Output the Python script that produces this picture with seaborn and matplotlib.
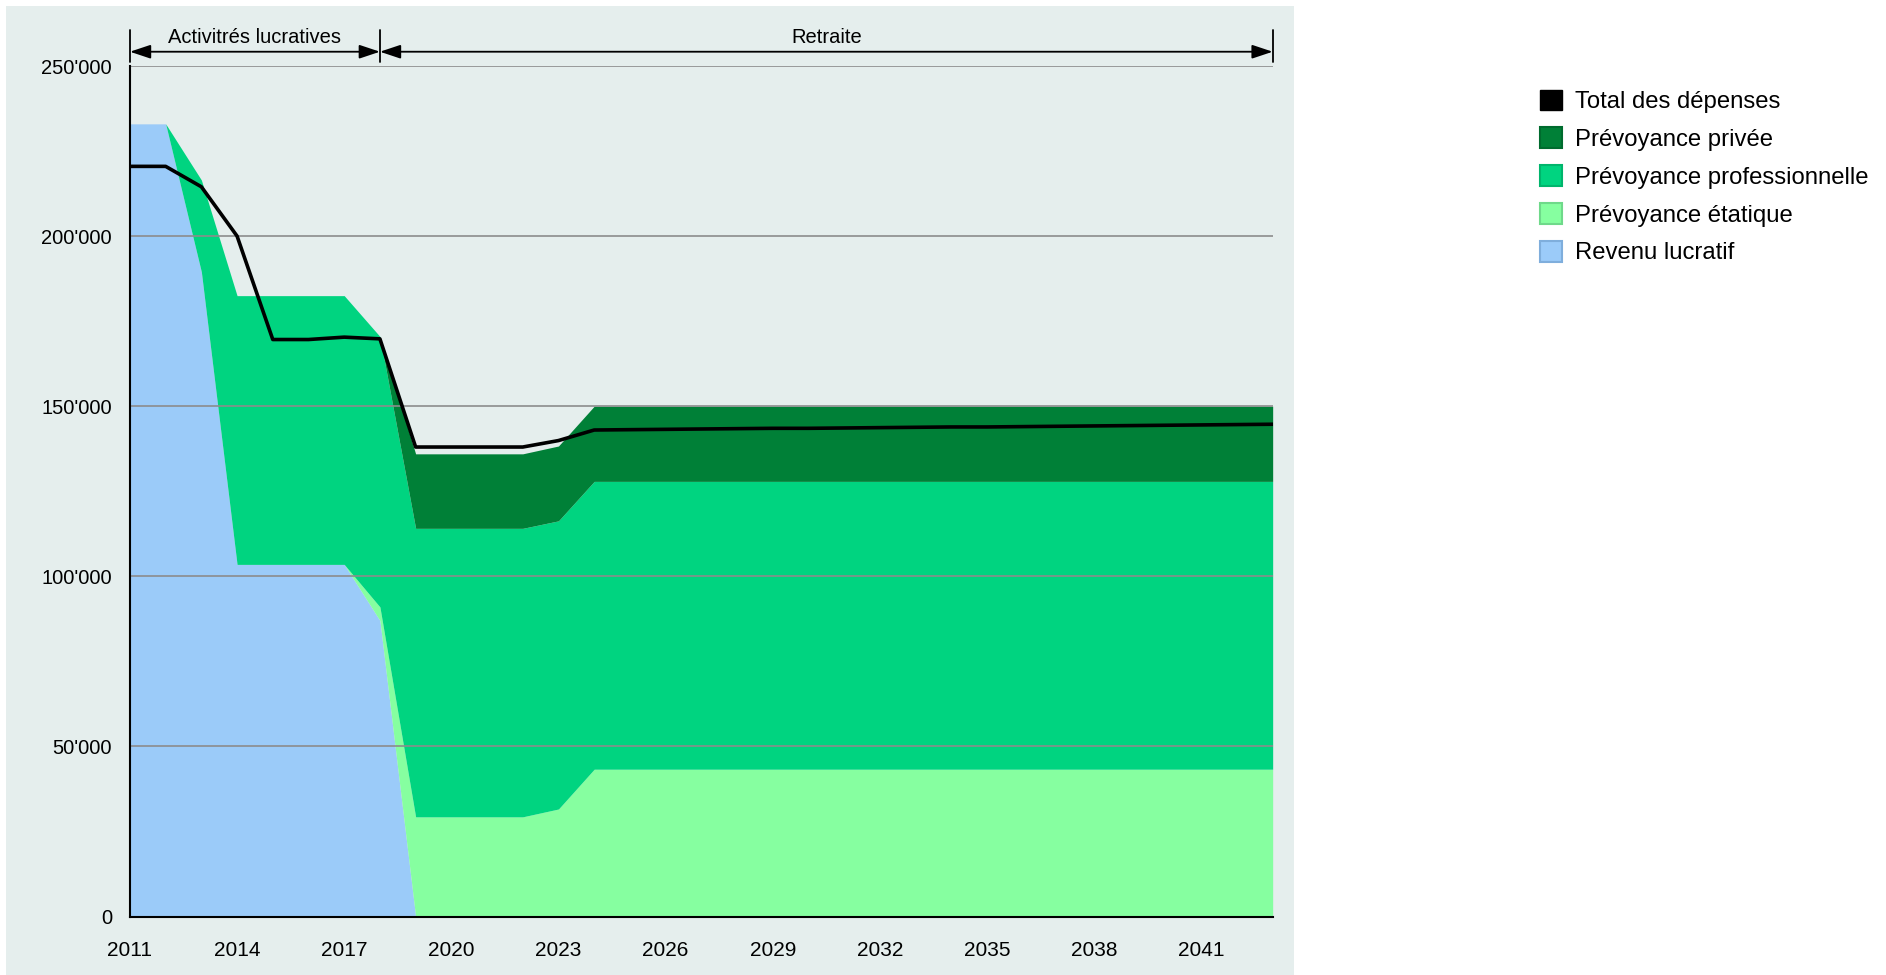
import numpy as np
import pandas as pd
import matplotlib
matplotlib.use("Agg")
import matplotlib.pyplot as plt
import seaborn as sns
from matplotlib.patches import Rectangle, Patch
from matplotlib.ticker import FuncFormatter

# data
years = list(range(2011, 2044))
revenu = [233000, 233000, 189500, 103500, 103500, 103500, 103500, 87000] + [0] * 25
etatique = [0] * 7 + [4000] + [29300] * 4 + [31600] + [43300] * 20
professionnelle = [0, 0, 27000, 79000, 79000, 79000, 79000, 79500] + [84800] * 4 + [84700] + [84600] * 20
privee = [0] * 8 + [21900] * 4 + [22000] + [22100] * 20
total = [220500, 220500, 214500, 200000, 169600, 169600, 170300, 169800,
         138000, 138000, 138000, 138000, 139900,
         143000, 143100, 143200, 143300, 143400, 143500, 143500, 143600, 143700, 143800,
         143900, 143900, 144000, 144100, 144200, 144300, 144400, 144500, 144600, 144700]

series_names = ["Revenu lucratif", "Prévoyance étatique", "Prévoyance professionnelle", "Prévoyance privée"]
colors = ["#9BCBF9", "#86FFA0", "#00D480", "#008037"]
edge_colors = ["#7FAEDC", "#6FD98A", "#00B56C", "#006B2E"]
total_name = "Total des dépenses"

periods = [("Activitrés lucratives", 2011, 2018), ("Retraite", 2018, 2043)]

df = pd.DataFrame({"annee": years, "total": total})

sns.set_style("white")
plt.rcParams["font.family"] = ["Liberation Sans", "DejaVu Sans"]
plt.rcParams["text.color"] = "black"
plt.rcParams["xtick.color"] = "black"
plt.rcParams["ytick.color"] = "black"
narrow = ["Liberation Sans Narrow", "Liberation Sans", "DejaVu Sans"]

fig = plt.figure(figsize=(18.86, 9.75), dpi=100)
fig.patch.set_facecolor("white")
bg = Rectangle((6 / 1886, 0), 1288 / 1886, 969 / 975, transform=fig.transFigure,
               facecolor="#E5EEED", edgecolor="none", zorder=-10)
fig.add_artist(bg)

ax = fig.add_axes([0.0689, 0.06, 0.6059, 0.8723])
ax.set_facecolor("none")
ax.set_zorder(1)

ax.stackplot(years, revenu, etatique, professionnelle, privee, colors=colors,
             linewidth=0, zorder=2)
sns.lineplot(data=df, x="annee", y="total", color="black", linewidth=2.6, ax=ax,
             zorder=4, legend=False)

ax.set_xlim(2011, 2043)
ax.set_ylim(0, 250000)
ax.set_xticks(list(range(2011, 2043, 3)))
ax.set_yticks([0, 50000, 100000, 150000, 200000, 250000])
ax.yaxis.set_major_formatter(FuncFormatter(lambda v, p: f"{int(v):,}".replace(",", "'")))
ax.grid(axis="y", color="#8C8C8C", linewidth=1.2, zorder=3)
ax.set_axisbelow(False)
for s in ["top", "right"]:
    ax.spines[s].set_visible(False)
for s in ["left", "bottom"]:
    ax.spines[s].set_color("black")
    ax.spines[s].set_linewidth(1.5)
    ax.spines[s].set_zorder(5)
ax.tick_params(axis="x", direction="out", length=7, width=1.3, color="black",
               labelsize=15, pad=11)
ax.tick_params(axis="y", direction="out", length=6, width=1.3, color="black",
               labelsize=14.5, pad=7)
for lab in ax.get_yticklabels():
    lab.set_family(narrow)
ax.set_xlabel("")
ax.set_ylabel("")
if ax.get_legend() is not None:
    ax.get_legend().remove()

# periods above the chart
for name, x0, x1 in periods:
    ax.annotate("", xy=(x0, 254200), xytext=(x1, 254200), xycoords="data",
                arrowprops=dict(arrowstyle="<|-|>,head_length=0.9,head_width=0.3",
                                color="black", lw=1.3, shrinkA=0, shrinkB=0,
                                mutation_scale=14), annotation_clip=False)
    ax.text((x0 + x1) / 2, 258300, name, ha="center", va="center", fontsize=14.5,
            family=narrow, clip_on=False)
for xb in [2011, 2018, 2043]:
    ax.plot([xb, xb], [251300, 260500], color="black", lw=1.3, clip_on=False, zorder=6)

# legend
handles = [Patch(facecolor="black", edgecolor="black", label=total_name)]
for name, c, e in list(zip(series_names, colors, edge_colors))[::-1]:
    handles.append(Patch(facecolor=c, edgecolor=e, linewidth=1.5, label=name))
fig.legend(handles=handles, loc="upper left", bbox_to_anchor=(1530 / 1886, 1 - 80 / 975),
           frameon=False, fontsize=17.2, handlelength=0.95, handleheight=0.95,
           handletextpad=0.55, labelspacing=0.6, borderaxespad=0)

fig.savefig("out.png", dpi=100)
